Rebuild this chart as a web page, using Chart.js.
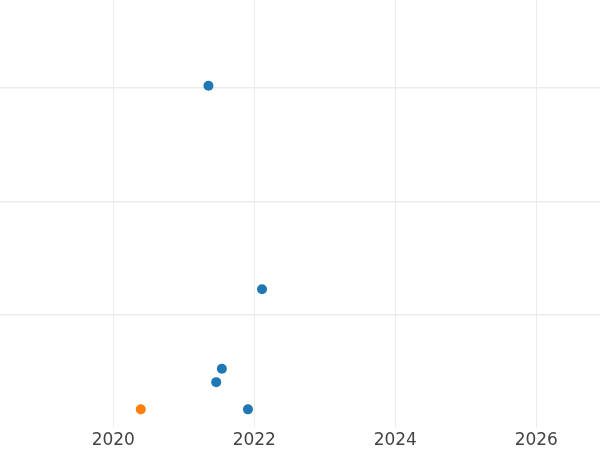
<!DOCTYPE html>
<html>
<head>
<meta charset="utf-8">
<script src="https://cdn.jsdelivr.net/npm/chart.js@4"></script>
<style>
  html,body{margin:0;padding:0;background:#fff;}
  #wrap{width:600px;height:450px;position:relative;}
</style>
</head>
<body>
<div id="wrap"><canvas id="c"></canvas></div>
<script>
// ===== DATA =====
const blueX=[2021.35,2022.11,2021.54,2021.46,2021.91];
const blueY=[30.15,12.28,5.29,4.12,1.73];
const orangeX=[2020.39];
const orangeY=[1.73];
const xTicks=[2020,2022,2024,2026];
const yTicks=[10,20,30];

const BLUE='#1f77b4',ORANGE='#ff7f0e',GRID='#ebebeb';
const pts=(xs,ys)=>xs.map((x,i)=>({x:x,y:ys[i]}));

new Chart(document.getElementById('c'),{type:'scatter',
  data:{datasets:[
    {data:pts(blueX,blueY),backgroundColor:BLUE,borderWidth:0,pointRadius:5,pointHoverRadius:5},
    {data:pts(orangeX,orangeY),backgroundColor:ORANGE,borderWidth:0,pointRadius:5,pointHoverRadius:5}
  ]},
  options:{responsive:true,maintainAspectRatio:false,animation:false,
    layout:{padding:0,autoPadding:false},
    plugins:{legend:{display:false},tooltip:{enabled:false}},
    scales:{
      x:{type:'linear',min:2018.393,max:2026.904,
        afterBuildTicks:a=>{a.ticks=xTicks.map(v=>({value:v}));},
        afterFit:s=>{s.height=23;},
        grid:{color:GRID,lineWidth:1,drawTicks:false},border:{display:false},
        ticks:{padding:3,color:'#444',font:{family:'DejaVu Sans',size:17},callback:v=>String(v)}},
      y:{min:0.18,max:37.68,
        afterBuildTicks:a=>{a.ticks=yTicks.map(v=>({value:v}));},
        grid:{color:GRID,lineWidth:1.5,drawTicks:false},border:{display:false},
        ticks:{display:false}}
    }}});
</script>
</body>
</html>
